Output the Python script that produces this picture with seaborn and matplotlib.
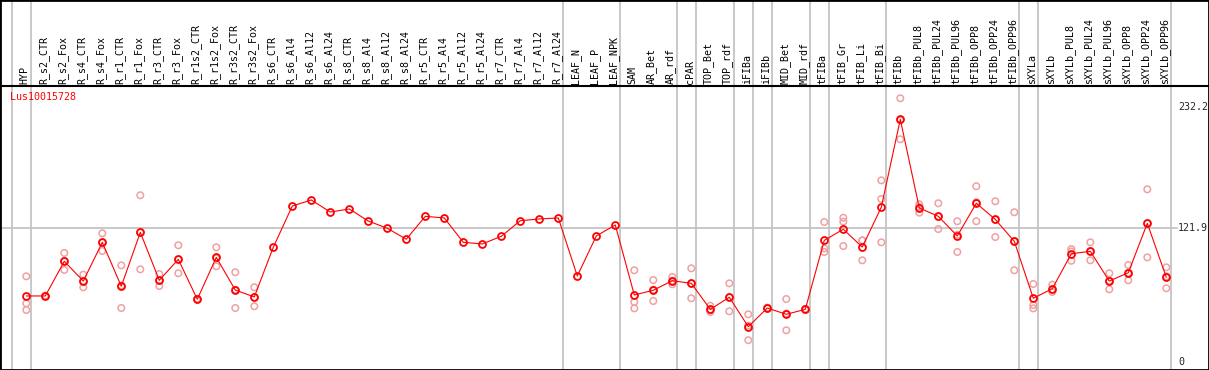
import numpy as np
import pandas as pd
import seaborn as sns
import matplotlib
matplotlib.use("Agg")
import matplotlib.pyplot as plt

# sample names, in plotting order
samples = ["HYP", "R_s2_CTR", "R_s2_Fox", "R_s4_CTR", "R_s4_Fox", "R_r1_CTR", "R_r1_Fox",
           "R_r3_CTR", "R_r3_Fox", "R_r1s2_CTR", "R_r1s2_Fox", "R_r3s2_CTR", "R_r3s2_Fox",
           "R_s6_CTR", "R_s6_Al4", "R_s6_Al12", "R_s6_Al24", "R_s8_CTR", "R_s8_Al4",
           "R_s8_Al12", "R_s8_Al24", "R_r5_CTR", "R_r5_Al4", "R_r5_Al12", "R_r5_Al24",
           "R_r7_CTR", "R_r7_Al4", "R_r7_Al12", "R_r7_Al24", "LEAF_N", "LEAF_P", "LEAF_NPK",
           "SAM", "AR_Bet", "AR_rdf", "cPAR", "TOP_Bet", "TOP_rdf", "iFIBa", "iFIBb",
           "MID_Bet", "MID_rdf", "tFIBa", "tFIB_Gr", "tFIB_Li", "tFIB_Bi", "tFIBb",
           "tFIBb_PUL8", "tFIBb_PUL24", "tFIBb_PUL96", "tFIBb_OPP8", "tFIBb_OPP24",
           "tFIBb_OPP96", "sXYLa", "sXYLb", "sXYLb_PUL8", "sXYLb_PUL24", "sXYLb_PUL96",
           "sXYLb_OPP8", "sXYLb_OPP24", "sXYLb_OPP96"]

# mean expression per sample
means = [60.2, 60.2, 91.8, 73.8, 109.1, 69.0, 118.2, 74.5, 93.6, 57.2, 95.4, 65.6, 59.3,
         104.6, 142.2, 147.7, 136.7, 139.5, 128.5, 121.9, 111.9, 132.8, 131.3, 109.1, 107.6,
         114.6, 128.8, 130.4, 131.3, 78.4, 114.9, 124.9,
         61.1, 65.4, 74.1, 71.7, 48.0, 59.0, 32.2, 49.2, 43.5, 48.0,
         110.9, 121.0, 104.8, 141.1, 221.2, 140.4, 132.8, 114.9, 144.7, 130.0, 110.0,
         58.1, 66.8, 98.7, 100.9, 73.8, 81.4, 126.4, 77.2]

nan = np.nan
# biological replicates (nan where no replicate was shown)
rep1 = [78.1, 60.5, 99.4, 79.6, 117.3, 88.1, 152.0, 80.2, 106.4, 57.6, 104.6, 81.8, 68.1,
        nan, nan, nan, nan, nan, nan, nan, nan, nan, nan, nan, nan, nan, nan, nan, nan,
        nan, nan, nan,
        83.6, 74.7, 77.5, 85.4, 51.3, 71.7, 43.5, 49.6, 57.4, 48.4,
        127.6, 131.5, 110.9, 165.6, 240.4, 143.8, 144.7, 128.3, 160.2, 146.5, 136.5,
        71.1, 70.5, 103.0, 109.1, 80.9, 88.4, 157.4, 86.3]
rep2 = [53.5, 59.8, 83.9, 68.1, 101.2, 49.2, 84.5, 69.3, 80.9, 56.8, 87.2, 49.2, 50.8,
        nan, nan, nan, nan, nan, nan, nan, nan, nan, nan, nan, nan, nan, nan, nan, nan,
        nan, nan, nan,
        54.7, 55.6, 70.8, 58.1, 45.6, 46.2, 19.9, 48.8, 28.9, 47.6,
        103.6, 127.9, 92.7, 148.6, 203.0, 136.1, 121.2, 100.3, 128.3, 113.9, 83.6,
        52.0, 63.8, 92.3, 92.7, 66.3, 74.5, 95.4, 67.2]
rep3 = [47.4, 60.3, 92.1, 73.7, 108.8, 69.7, 118.1, 74.0, 93.5, 57.2, 94.4, 65.8, 59.0,
        nan, nan, nan, nan, nan, nan, nan, nan, nan, nan, nan, nan, nan, nan, nan, nan,
        nan, nan, nan,
        48.9, 65.9, 74.0, 71.6, 47.1, 59.1, 33.2, 49.2, 44.2, 48.0,
        100.3, 105.7, 110.8, 109.1, 220.3, 141.3, 132.5, 116.0, 145.6, 129.6, 110.0,
        48.9, 66.1, 100.8, 100.9, 74.2, 81.3, 126.4, 78.1]

# group boundaries: a separator follows these sample indices
group_ends = [-1, 0, 28, 31, 34, 35, 37, 38, 39, 41, 42, 45, 52, 53, 60]
y_ticks = [0, 121.9, 232.2]
gene = "Lus10015728"

pos = np.arange(len(samples))
df_mean = pd.DataFrame({"pos": pos, "sample": samples, "value": means})
df_rep = pd.DataFrame({"pos": np.concatenate([pos, pos, pos]),
                       "value": np.concatenate([rep1, rep2, rep3])}).dropna()

sns.set_style("white")
plt.rcParams["font.family"] = ["DejaVu Sans Mono"]

W, H = 1209, 370
fig = plt.figure(figsize=(W / 100, H / 100), dpi=100)
ax = fig.add_axes([0, 0, 1, 1])

# pixel mapping of the original: 19 px per sample, first sample at x=26.3
px_per = 19.0
x0 = 26.3
ax.set_xlim(-x0 / px_per, (W - x0) / px_per)
# 0 at y=362 px from top, 1.097 px per unit
ypx = 1.097
ax.set_ylim(-(H - 362) / ypx, 362 / ypx)

def v_at(py):
    return (362 - py) / ypx

pink = "#f0a0a0"
grey = "#c4c4c4"

for g in group_ends:
    ax.axvline(g + 0.23, color=grey, lw=1.3, zorder=1)
ax.axhline(121.9, xmax=1177 / W, color=grey, lw=1.3, zorder=1)
ax.axhline(v_at(85.5), color="black", lw=1.5, zorder=2)

sns.scatterplot(data=df_rep, x="pos", y="value", color=pink, s=22, marker="o", ax=ax,
                zorder=3, legend=False)
coll = ax.collections[-1]
coll.set_facecolor("none")
coll.set_edgecolor(pink)
coll.set_linewidth(1.1)

sns.lineplot(data=df_mean, x="pos", y="value", color="red", lw=0.8, sort=False,
             marker="o", markersize=5, markerfacecolor="none", markeredgecolor="red",
             markeredgewidth=1.3, ax=ax, zorder=4)

# header labels
for i, s in enumerate(samples):
    ax.text(i - 0.08, v_at(84), s, rotation=90, ha="center", va="bottom",
            fontsize=7.2, color="black")

ax.text(-0.86, v_at(97), gene, color="red", fontsize=7.2, ha="left", va="center")
for t in y_ticks:
    lab = "0" if t == 0 else f"{t:.1f}"
    ax.text((1178 - x0) / px_per, t, lab, fontsize=7.2, ha="left", va="center")

ax.set_xlabel("")
ax.set_ylabel("")
ax.set_xticks([])
ax.set_yticks([])
for sp in ax.spines.values():
    sp.set_visible(True)
    sp.set_color("black")
    sp.set_linewidth(2)

fig.savefig("out.png", dpi=100)
